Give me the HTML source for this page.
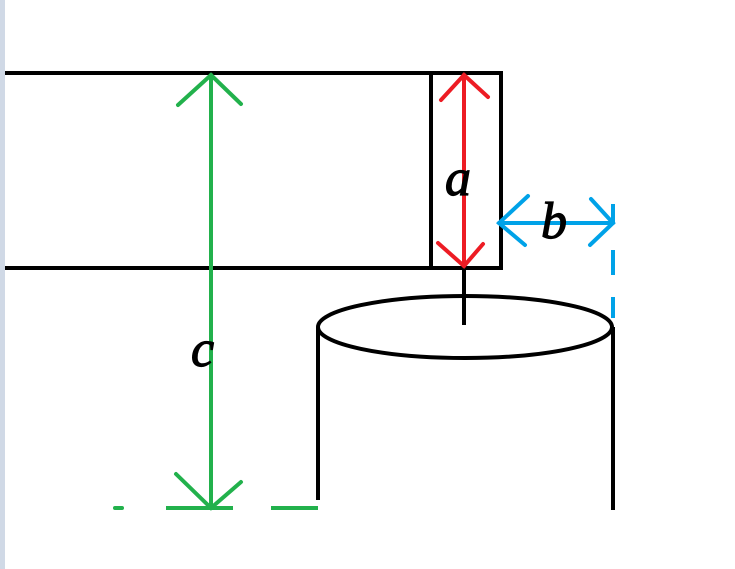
<!DOCTYPE html>
<html><head><style>
html,body{margin:0;padding:0;background:#fff;}
body{width:735px;height:569px;overflow:hidden;position:relative;}
</style></head><body>
<svg width="735" height="569" viewBox="0 0 735 569" xmlns="http://www.w3.org/2000/svg" style="position:absolute;left:0;top:0">
<g stroke="#000" stroke-width="4" fill="none">
<rect x="3" y="73" width="498" height="195"/>
<line x1="431" y1="73" x2="431" y2="268"/>
<line x1="464" y1="268" x2="464" y2="325"/>
<ellipse cx="465" cy="327" rx="147" ry="31"/>
<line x1="318" y1="327" x2="318" y2="500"/>
<line x1="613" y1="327" x2="613" y2="510"/>
</g>
<rect x="0" y="0" width="5" height="569" fill="#d0d9e6"/>
<g stroke="#ed1c24" stroke-width="4" fill="none" stroke-linecap="round">
<line x1="464" y1="75" x2="464" y2="266"/>
<polyline points="441,100 464,75 488,97"/>
<polyline points="438,243 464,266 483,244"/>
</g>
<g stroke="#00a2e8" stroke-width="4" fill="none" stroke-linecap="round">
<line x1="499" y1="223" x2="613" y2="223"/>
<polyline points="528,196 499,223 525,245"/>
<polyline points="591,199 613,223 590,245"/>
<line x1="613" y1="204" x2="613" y2="223" stroke-linecap="butt"/>
<line x1="613" y1="250" x2="613" y2="275" stroke-linecap="butt"/>
<line x1="613" y1="297" x2="613" y2="318" stroke-linecap="butt"/>
</g>
<g stroke="#22b14c" stroke-width="4" fill="none" stroke-linecap="round">
<line x1="211" y1="75" x2="211" y2="508"/>
<polyline points="178,105 211,75 241,104"/>
<polyline points="176,474 211,508 241,482"/>
<line x1="115" y1="508" x2="122" y2="508"/>
<line x1="166" y1="508" x2="233" y2="508" stroke-linecap="butt"/>
<line x1="271" y1="508" x2="318" y2="508" stroke-linecap="butt"/>
</g>
<g font-family="Liberation Serif, serif" font-style="italic" font-size="52" fill="#000" stroke="#000" stroke-width="1.2">
<text x="445" y="195">a</text>
<text x="541" y="238">b</text>
<text x="191" y="366">c</text>
</g>
</svg>
</body></html>
